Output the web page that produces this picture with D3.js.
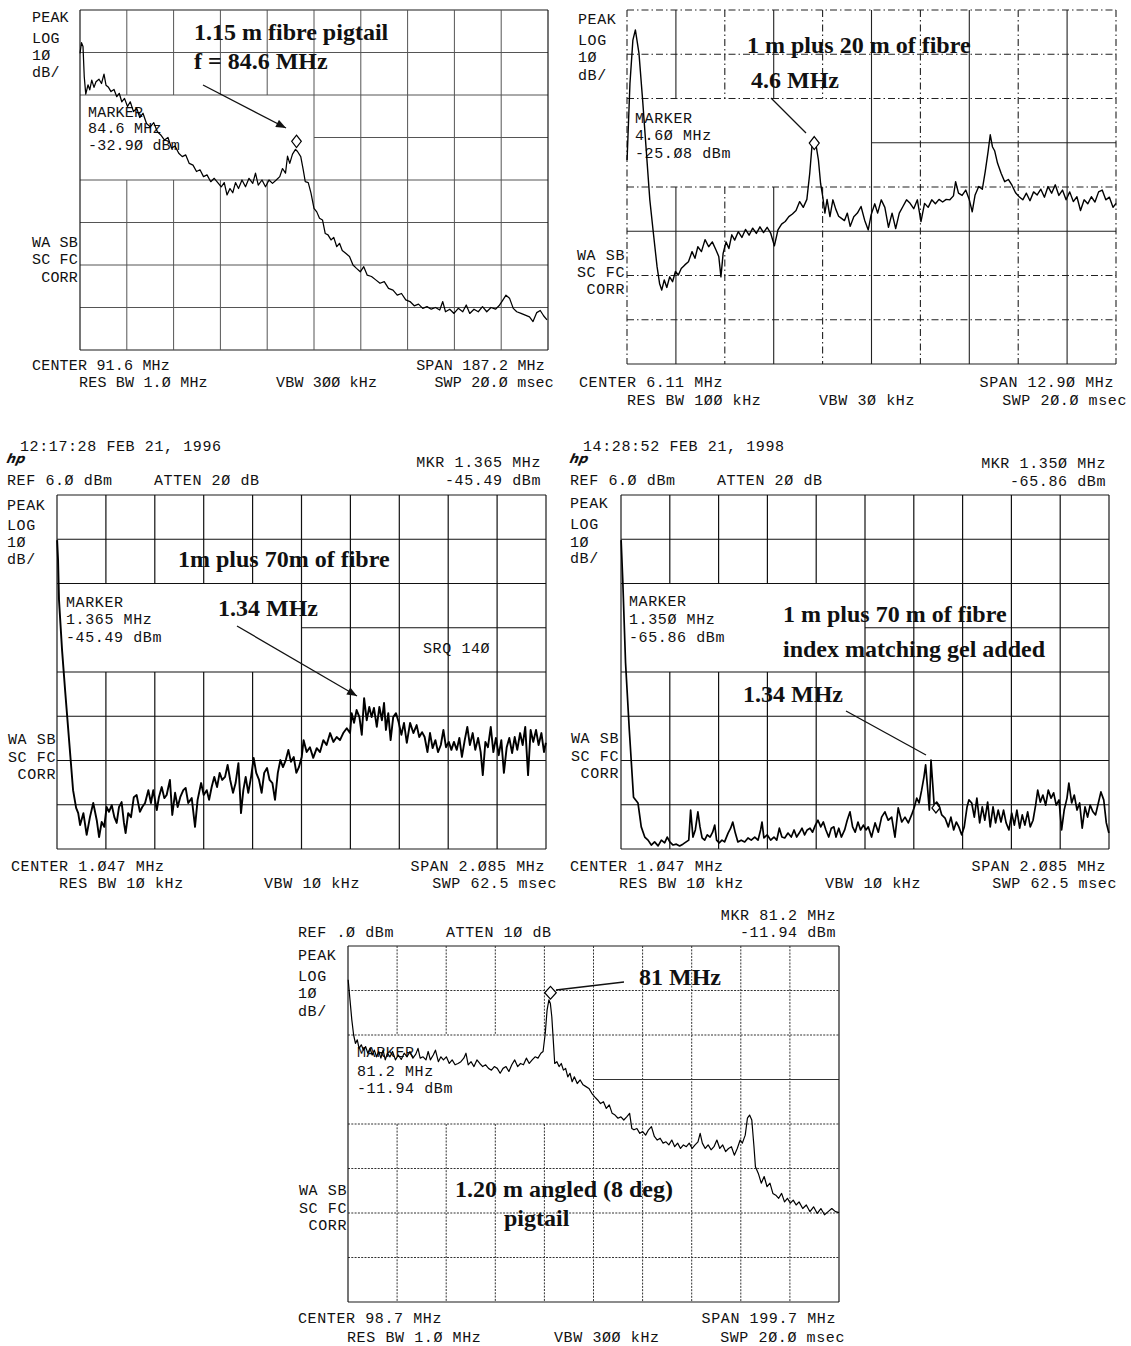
<!DOCTYPE html>
<html><head><meta charset="utf-8">
<script src="https://cdn.jsdelivr.net/npm/d3@7/dist/d3.min.js"></script>
<style>body{margin:0;background:#fff}svg{display:block}</style>
</head><body>
<svg id="c" width="1131" height="1346"></svg>
<script>
// ---------- DATA ----------
// Panel 1: 1.15 m fibre pigtail  (MHz, dBm)
const p1Freq = [-2.0,-1.4,-0.8,-0.3,0.3,1.2,1.9,2.7,3.6,4.4,5.6,6.6,7.6,8.4,9.4,10.4,11.6,12.7,13.7,14.7,15.8,17.0,18.1,19.4,20.7,21.9,23.2,24.6,26.1,27.5,28.9,30.3,31.8,33.2,34.6,36.0,37.5,38.9,40.3,41.7,43.2,44.6,46.0,47.4,48.8,50.3,51.7,53.1,54.5,55.7,56.8,58.0,59.1,60.2,61.4,62.8,64.2,65.6,67.1,68.2,69.3,70.8,72.2,73.6,75.0,76.5,77.9,79.0,80.2,81.0,81.9,83.0,84.2,85.0,86.3,87.3,88.1,89.3,90.4,91.6,92.7,93.8,95.0,96.1,97.2,98.4,99.5,100.7,101.8,102.9,104.4,105.8,107.2,108.6,110.1,111.5,112.9,114.6,116.3,118.0,119.7,121.4,123.2,124.9,126.6,128.3,130.0,131.7,133.4,135.1,136.8,138.5,140.2,141.9,143.1,144.2,145.9,147.6,149.3,151.1,152.5,153.9,155.6,157.3,159.0,160.7,162.4,164.2,165.6,167.0,168.4,169.8,171.3,172.7,174.4,176.1,177.8,179.2,180.7,182.1,183.5,184.8];
const p1Level = [-12.2,-9.7,-10.6,-17.7,-21.8,-19.6,-20.8,-18.5,-20.2,-18.9,-18.3,-19.3,-17.1,-19.7,-20.2,-21.2,-20.7,-22.4,-21.6,-23.6,-22.8,-24.7,-23.6,-25.9,-25.1,-27.3,-26.3,-28.7,-29.5,-28.5,-30.6,-31.4,-32.6,-32.0,-34.5,-34.0,-35.7,-36.5,-36.1,-38.1,-38.5,-40.0,-39.6,-41.2,-40.8,-42.4,-41.6,-42.6,-43.6,-42.6,-45.5,-44.0,-45.0,-42.6,-44.0,-42.0,-43.6,-41.6,-42.8,-40.4,-43.2,-42.0,-43.6,-42.0,-42.8,-42.0,-41.2,-39.3,-40.4,-36.4,-38.1,-35.9,-34.8,-35.3,-36.5,-39.6,-42.4,-42.6,-45.1,-48.7,-49.5,-51.0,-51.4,-54.6,-54.9,-56.1,-55.5,-57.7,-56.9,-58.6,-59.3,-60.0,-62.0,-62.8,-63.6,-62.4,-64.4,-64.7,-65.5,-66.3,-65.9,-67.5,-67.9,-69.1,-68.7,-70.2,-70.6,-71.6,-71.2,-72.2,-71.8,-72.4,-72.0,-72.6,-70.6,-73.0,-72.4,-73.4,-72.2,-73.0,-71.4,-73.4,-72.4,-73.0,-71.8,-73.0,-72.0,-72.4,-71.6,-70.4,-69.1,-69.8,-72.2,-73.0,-73.4,-73.8,-74.2,-75.3,-73.2,-72.7,-74.0,-74.9];

// Panel 2: 1 m plus 20 m of fibre
const p2Freq = [-0.338,-0.262,-0.185,-0.119,-0.024,0.072,0.167,0.262,0.357,0.453,0.519,0.576,0.643,0.710,0.786,0.862,0.938,1.015,1.091,1.186,1.281,1.376,1.453,1.529,1.624,1.719,1.815,1.910,2.005,2.081,2.138,2.196,2.272,2.348,2.424,2.500,2.595,2.691,2.786,2.881,2.976,3.072,3.167,3.262,3.357,3.453,3.548,3.643,3.738,3.834,3.929,4.024,4.119,4.215,4.310,4.405,4.481,4.538,4.596,4.653,4.710,4.767,4.824,4.881,4.938,5.014,5.091,5.167,5.243,5.319,5.396,5.472,5.548,5.643,5.738,5.834,5.929,6.024,6.100,6.196,6.272,6.367,6.462,6.558,6.653,6.748,6.843,6.939,7.034,7.129,7.224,7.320,7.415,7.510,7.605,7.700,7.796,7.891,7.986,8.081,8.177,8.272,8.329,8.405,8.500,8.596,8.691,8.767,8.843,8.939,9.034,9.110,9.186,9.243,9.300,9.358,9.434,9.529,9.624,9.720,9.815,9.910,10.005,10.101,10.196,10.291,10.386,10.481,10.577,10.672,10.767,10.862,10.958,11.053,11.148,11.243,11.339,11.434,11.529,11.624,11.720,11.815,11.910,12.005,12.101,12.196,12.291,12.386,12.481,12.560];
const p2Level = [-28.9,-11.6,-1.8,0.5,-4.8,-15.3,-26.6,-37.9,-45.5,-53.0,-56.8,-58.3,-56.0,-57.7,-55.3,-56.4,-54.1,-54.9,-53.4,-52.6,-51.9,-49.6,-51.1,-48.5,-49.6,-46.9,-48.5,-47.4,-49.2,-50.7,-55.3,-50.0,-47.4,-48.9,-45.8,-47.0,-45.1,-46.4,-44.6,-45.9,-44.3,-45.5,-44.0,-45.3,-44.1,-45.5,-48.3,-44.7,-43.4,-42.8,-41.7,-41.1,-40.3,-38.3,-39.6,-37.8,-31.9,-25.9,-24.2,-25.9,-28.9,-34.2,-37.2,-40.9,-37.8,-41.7,-37.9,-40.0,-41.6,-42.1,-42.6,-40.9,-43.9,-41.7,-40.9,-39.4,-42.5,-44.7,-41.3,-38.8,-40.9,-37.9,-39.6,-44.1,-40.9,-44.4,-40.9,-39.4,-37.9,-38.7,-39.9,-37.9,-42.8,-38.7,-39.6,-37.9,-38.8,-37.8,-38.4,-37.8,-37.9,-37.0,-33.8,-36.4,-36.9,-35.7,-37.9,-40.6,-36.8,-34.9,-35.5,-31.5,-27.0,-23.2,-25.9,-26.8,-29.6,-31.9,-33.8,-33.3,-34.6,-36.3,-37.2,-37.9,-36.4,-38.1,-36.1,-36.8,-35.5,-37.3,-34.9,-36.4,-34.5,-36.9,-35.7,-37.9,-36.1,-38.3,-37.2,-40.3,-37.9,-38.8,-37.2,-38.4,-36.1,-35.7,-37.9,-37.3,-39.6,-38.7];

// Panel 3: 1m plus 70m of fibre
const p3Freq = [0.005,0.009,0.013,0.026,0.039,0.056,0.073,0.086,0.095,0.103,0.117,0.131,0.145,0.159,0.174,0.184,0.195,0.206,0.216,0.226,0.238,0.249,0.259,0.269,0.280,0.290,0.297,0.308,0.320,0.332,0.344,0.358,0.368,0.380,0.394,0.405,0.415,0.430,0.439,0.451,0.462,0.472,0.486,0.496,0.508,0.519,0.530,0.543,0.553,0.564,0.579,0.593,0.604,0.619,0.630,0.643,0.653,0.664,0.675,0.687,0.698,0.709,0.721,0.732,0.743,0.755,0.766,0.778,0.789,0.799,0.809,0.820,0.832,0.843,0.854,0.866,0.877,0.888,0.900,0.911,0.923,0.934,0.946,0.957,0.968,0.980,0.991,1.002,1.014,1.025,1.036,1.048,1.056,1.069,1.083,1.097,1.112,1.126,1.140,1.154,1.169,1.183,1.197,1.211,1.225,1.240,1.254,1.261,1.271,1.282,1.294,1.304,1.314,1.325,1.336,1.346,1.356,1.368,1.379,1.390,1.399,1.407,1.417,1.427,1.438,1.450,1.461,1.473,1.484,1.496,1.510,1.524,1.538,1.549,1.561,1.572,1.584,1.595,1.606,1.618,1.629,1.641,1.652,1.663,1.675,1.686,1.697,1.709,1.720,1.731,1.743,1.754,1.765,1.777,1.788,1.800,1.811,1.820,1.831,1.842,1.854,1.865,1.876,1.888,1.899,1.910,1.922,1.933,1.945,1.956,1.967,1.979,1.990,2.001,2.013,2.024,2.035,2.047,2.058,2.070,2.081,2.089];
const p3Level = [-4.2,-8.7,-17.7,-29.0,-38.1,-49.4,-60.7,-64.7,-65.9,-68.6,-65.9,-70.8,-66.8,-63.6,-67.5,-71.3,-67.9,-69.0,-64.5,-65.6,-64.1,-66.8,-68.1,-64.5,-63.4,-68.1,-70.4,-65.9,-66.8,-62.3,-61.8,-65.6,-64.5,-63.6,-60.7,-63.6,-60.7,-65.2,-62.3,-60.0,-62.5,-61.8,-58.4,-66.3,-61.3,-64.5,-62.3,-60.7,-60.2,-63.6,-62.5,-69.0,-62.9,-59.1,-61.8,-60.7,-62.9,-60.0,-57.7,-60.0,-56.8,-58.4,-57.7,-55.0,-58.4,-61.3,-59.1,-54.6,-65.9,-60.7,-57.7,-61.3,-57.7,-53.4,-56.8,-58.4,-61.3,-56.8,-55.7,-58.4,-59.1,-62.9,-56.8,-53.9,-55.5,-53.9,-51.6,-54.3,-53.2,-56.8,-55.5,-53.2,-49.4,-52.1,-51.0,-53.4,-51.2,-52.1,-49.4,-50.5,-47.8,-49.8,-48.7,-49.4,-47.8,-46.7,-47.8,-43.3,-45.5,-42.6,-44.2,-48.2,-39.9,-44.9,-41.9,-44.2,-42.1,-46.4,-41.9,-44.9,-41.0,-47.1,-43.3,-49.4,-44.2,-43.3,-45.3,-48.2,-45.5,-50.0,-45.5,-47.8,-46.0,-48.7,-47.6,-48.7,-52.1,-47.8,-51.2,-49.4,-52.1,-50.5,-47.1,-51.0,-49.8,-51.6,-49.8,-51.6,-48.9,-53.2,-49.4,-46.4,-50.5,-47.8,-51.6,-48.9,-52.1,-57.3,-49.8,-51.0,-46.4,-52.1,-48.9,-52.8,-49.4,-56.8,-51.0,-48.9,-52.3,-48.7,-51.6,-47.8,-50.5,-46.4,-57.3,-47.1,-49.8,-47.1,-50.5,-47.8,-52.1,-50.0];

// Panel 4: 1 m plus 70 m of fibre, index matching gel added
const p4Freq = [0.005,0.012,0.024,0.040,0.058,0.077,0.091,0.106,0.120,0.134,0.148,0.163,0.177,0.191,0.202,0.213,0.227,0.241,0.255,0.269,0.283,0.294,0.302,0.312,0.322,0.333,0.342,0.351,0.362,0.373,0.385,0.396,0.405,0.413,0.424,0.436,0.447,0.462,0.473,0.482,0.493,0.504,0.518,0.533,0.547,0.561,0.576,0.590,0.601,0.607,0.615,0.629,0.644,0.658,0.670,0.681,0.692,0.704,0.718,0.732,0.744,0.755,0.766,0.778,0.789,0.800,0.812,0.823,0.835,0.846,0.858,0.869,0.880,0.892,0.903,0.914,0.923,0.935,0.946,0.960,0.971,0.983,0.994,1.005,1.017,1.028,1.040,1.051,1.061,1.075,1.090,1.104,1.118,1.132,1.146,1.161,1.175,1.189,1.204,1.218,1.232,1.246,1.258,1.268,1.278,1.289,1.299,1.306,1.315,1.322,1.329,1.336,1.343,1.353,1.363,1.375,1.389,1.403,1.414,1.426,1.437,1.448,1.460,1.471,1.483,1.491,1.503,1.514,1.525,1.537,1.548,1.559,1.571,1.582,1.594,1.605,1.616,1.628,1.639,1.650,1.662,1.674,1.685,1.696,1.708,1.719,1.730,1.742,1.753,1.765,1.776,1.785,1.796,1.807,1.819,1.830,1.842,1.853,1.864,1.876,1.887,1.898,1.910,1.918,1.930,1.941,1.953,1.964,1.975,1.987,1.998,2.009,2.021,2.032,2.044,2.055,2.067,2.078,2.089];
const p4Level = [-4.2,-13.2,-32.0,-47.1,-62.3,-63.6,-69.0,-71.3,-72.0,-73.1,-72.4,-73.3,-72.0,-72.6,-71.3,-72.4,-73.1,-72.9,-73.3,-72.9,-72.4,-72.0,-65.2,-71.3,-69.7,-65.6,-69.0,-71.5,-72.0,-70.8,-71.3,-70.2,-68.6,-72.0,-72.6,-72.0,-72.4,-70.4,-69.3,-67.9,-70.4,-72.4,-72.0,-72.4,-71.5,-72.0,-71.3,-72.0,-69.7,-67.9,-71.5,-70.8,-72.0,-71.3,-72.0,-69.3,-71.3,-71.5,-70.4,-71.3,-69.7,-71.3,-70.4,-69.3,-70.8,-69.7,-69.3,-70.2,-68.6,-67.5,-69.0,-67.9,-69.7,-71.3,-69.3,-69.0,-71.3,-69.3,-71.3,-69.7,-67.5,-65.6,-69.0,-70.2,-67.9,-69.7,-68.6,-69.7,-69.0,-71.3,-68.1,-70.2,-66.8,-65.6,-67.5,-66.8,-71.3,-64.7,-67.9,-66.8,-68.1,-66.3,-64.5,-62.5,-63.6,-60.7,-57.7,-55.0,-60.7,-65.2,-53.9,-59.1,-64.5,-63.4,-64.1,-66.3,-67.0,-69.0,-66.8,-69.7,-67.9,-69.0,-70.8,-69.0,-64.5,-62.9,-63.6,-66.8,-62.5,-68.1,-64.5,-67.5,-63.4,-69.0,-64.5,-68.1,-65.2,-67.9,-65.2,-68.1,-69.7,-65.9,-68.6,-65.2,-69.3,-66.3,-68.6,-65.6,-69.0,-67.5,-64.1,-60.7,-63.4,-61.8,-64.1,-60.7,-62.5,-61.3,-64.1,-62.9,-69.7,-65.2,-62.5,-59.1,-63.6,-61.8,-65.2,-63.6,-69.3,-64.5,-66.8,-64.1,-65.6,-66.3,-63.6,-61.1,-62.9,-68.1,-70.4];

// Panel 5: 1.20 m angled (8 deg) pigtail
const p5Freq = [-1.08,-0.34,0.40,1.14,1.88,2.62,3.36,4.25,5.13,6.02,6.91,7.80,8.68,9.57,10.46,11.35,12.23,13.12,14.01,14.89,15.93,16.96,18.15,19.33,20.51,21.70,22.88,24.06,25.25,26.43,27.32,28.21,29.39,30.57,31.46,32.35,33.53,34.42,35.60,36.63,37.67,38.85,40.04,41.22,42.40,43.59,44.77,45.95,46.84,47.73,48.91,50.09,51.28,52.46,53.64,54.83,56.01,57.19,58.37,59.56,60.74,61.92,63.11,64.29,65.47,66.66,67.84,69.02,70.21,71.39,72.57,73.76,74.94,76.12,77.30,78.19,79.08,79.82,80.56,81.15,81.74,82.33,82.92,83.81,84.70,85.59,86.47,87.36,88.24,89.13,90.02,90.91,92.09,93.28,94.46,95.64,96.83,98.01,99.19,100.38,101.56,102.74,103.92,105.11,106.29,107.47,108.66,109.84,111.02,112.21,113.39,114.28,115.16,116.35,117.53,118.71,119.90,121.08,122.26,123.45,124.63,125.81,127.00,128.18,129.36,130.54,131.73,132.91,134.09,135.28,136.46,137.64,138.83,140.01,141.19,142.08,142.97,144.15,145.33,146.52,147.70,148.88,150.07,151.25,152.43,153.62,154.80,155.98,157.17,158.35,159.24,160.41,161.30,162.19,163.08,163.97,164.56,165.74,166.93,168.11,169.29,170.47,171.66,172.84,174.02,175.21,176.39,177.57,178.76,179.94,181.12,182.31,183.79,185.26,186.74,188.22,189.70,191.18,192.66,194.14,195.62,197.10,198.57];
const p5Level = [-7.6,-12.1,-16.6,-20.0,-21.9,-21.1,-23.0,-22.2,-23.4,-22.6,-24.1,-23.0,-24.5,-23.4,-24.9,-23.7,-25.2,-23.4,-25.6,-24.1,-24.9,-23.7,-25.6,-24.5,-25.5,-24.1,-24.9,-23.7,-25.2,-24.3,-23.0,-25.2,-24.9,-25.6,-23.7,-25.6,-24.5,-23.4,-26.0,-24.9,-25.6,-24.9,-26.4,-25.6,-26.7,-26.4,-26.0,-25.2,-24.1,-26.7,-26.0,-27.1,-25.6,-26.4,-27.1,-26.7,-27.5,-27.9,-27.1,-27.5,-28.6,-27.5,-27.1,-28.2,-26.7,-25.6,-27.1,-26.4,-26.7,-25.2,-26.4,-25.6,-24.9,-25.2,-24.1,-23.7,-19.6,-14.4,-12.1,-12.9,-15.9,-21.1,-26.4,-26.0,-27.1,-26.4,-27.9,-27.5,-29.4,-28.6,-30.5,-29.4,-30.9,-30.1,-31.2,-31.6,-32.0,-33.1,-33.9,-34.6,-35.4,-35.0,-36.5,-35.7,-37.6,-38.0,-38.7,-38.4,-39.1,-38.4,-37.6,-41.0,-41.3,-41.0,-42.1,-41.7,-42.5,-41.3,-40.6,-42.8,-43.6,-43.2,-44.3,-44.0,-44.7,-43.6,-45.1,-44.3,-45.5,-44.7,-45.1,-44.3,-45.5,-44.7,-44.0,-42.1,-44.3,-45.5,-44.7,-45.8,-45.1,-43.6,-45.5,-44.7,-46.2,-45.5,-45.1,-47.0,-45.5,-43.6,-44.3,-42.5,-38.7,-38.0,-39.1,-45.1,-49.6,-51.1,-53.3,-51.8,-54.1,-53.3,-55.6,-56.0,-56.7,-55.6,-57.5,-56.7,-57.8,-57.1,-58.2,-57.5,-59.0,-58.2,-59.7,-58.6,-60.1,-59.0,-60.4,-59.7,-59.0,-59.7,-59.9];

// Analyser settings per panel: centre, span (MHz), reference level (dBm), marker
const centerMHz = [91.6, 6.11, 1.047, 1.047, 98.7];
const spanMHz   = [187.2, 12.90, 2.085, 2.085, 199.7];
const refDbm    = [-2, 5, 6, 6, 0];
const markerMHz = [84.6, 4.60, 1.365, 1.350, 81.2];
const markerDbm = [-32.90, -25.08, -45.49, -65.86, -11.94];

// ---------- DRAWING ----------
const svg = d3.select('#c');
const MONO = "'Liberation Mono','DejaVu Sans Mono',monospace";
const SERIF = "'Liberation Serif','Times New Roman',serif";

const defs = svg.append('defs');
defs.append('marker').attr('id','ah').attr('viewBox','0 0 10 8').attr('refX',10).attr('refY',4)
  .attr('markerWidth',11).attr('markerHeight',8).attr('markerUnits','userSpaceOnUse').attr('orient','auto')
  .append('path').attr('d','M0,0 L10,4 L0,8 Z').attr('fill','#111');

const panels = [
  { box:[80,10,468,340], freq:p1Freq, level:p1Level, ls:0.2, lineW:1.25,
    grid:{stroke:'#555', w:1, dash:null}, diamond:{hw:4.8, hh:6.2, anchor:'center'},
    texts:[['PEAK',32,22],['LOG',32,43],['1Ø',32,60],['dB/',32,77],
      ['WA SB',78,247,'end'],['SC FC',78,264,'end'],['CORR',78,282,'end'],
      ['MARKER',88,117],['84.6 MHz',88,133],['-32.9Ø dBm',88,150],
      ['CENTER 91.6 MHz',32,370],['RES BW 1.Ø MHz',79,387],['VBW 3ØØ kHz',276,387],
      ['SPAN 187.2 MHz',545,370,'end'],['SWP 2Ø.Ø msec',554,387,'end']],
    notes:[['1.15 m fibre pigtail',194,40],['f = 84.6 MHz',194,69]],
    arrows:[[203,85,286,128,true]] },
  { box:[627,10,489,354], freq:p2Freq, level:p2Level, ls:0.6, lineW:1.4,
    grid:{stroke:'#222', w:1.1, dash:'7,3,1.5,3', solidRows:[5,8], solidCols:[1,3,5,7,9]},
    diamond:{hw:5, hh:6.5, anchor:'center'},
    texts:[['PEAK',578,24],['LOG',578,45],['1Ø',578,62],['dB/',578,80],
      ['MARKER',635,123],['4.6Ø MHz',635,140],['-25.Ø8 dBm',635,158],
      ['WA SB',625,260,'end'],['SC FC',625,277,'end'],['CORR',625,294,'end'],
      ['CENTER 6.11 MHz',579,387],['RES BW 1ØØ kHz',627,405],['VBW 3Ø kHz',819,405],
      ['SPAN 12.9Ø MHz',1114,387,'end'],['SWP 2Ø.Ø msec',1127,405,'end']],
    notes:[['1 m plus 20 m of fibre',747,53],['4.6 MHz',751,88]],
    arrows:[[771,98,806,133,false]] },
  { box:[57,495,489,354], freq:p3Freq, level:p3Level, ls:0.6, lineW:1.9,
    grid:{stroke:'#111', w:1.2, dash:null}, diamond:null,
    texts:[['12:17:28 FEB 21, 1996',20,451],
      ['MKR 1.365 MHz',541,467,'end'],['-45.49 dBm',541,485,'end'],['REF 6.Ø dBm',7,485],['ATTEN 2Ø dB',154,485],
      ['PEAK',7,510],['LOG',7,530],['1Ø',7,547],['dB/',7,564],
      ['MARKER',66,607],['1.365 MHz',66,624],['-45.49 dBm',66,642],['SRQ 14Ø',423,653],
      ['WA SB',56,744,'end'],['SC FC',56,762,'end'],['CORR',56,779,'end'],
      ['CENTER 1.Ø47 MHz',11,871],['RES BW 1Ø kHz',59,888],['VBW 1Ø kHz',264,888],
      ['SPAN 2.Ø85 MHz',545,871,'end'],['SWP 62.5 msec',557,888,'end']],
    logo:[6,463],
    notes:[['1m plus 70m of fibre',178,567],['1.34 MHz',218,616]],
    arrows:[[237,626,357,696,true]] },
  { box:[621,495,488,354], freq:p4Freq, level:p4Level, ls:0.6, lineW:1.7,
    grid:{stroke:'#111', w:1.2, dash:null}, diamond:{hw:4, hh:5, anchor:'bottom'},
    texts:[['14:28:52 FEB 21, 1998',583,451],
      ['MKR 1.35Ø MHz',1106,468,'end'],['-65.86 dBm',1106,486,'end'],['REF 6.Ø dBm',570,485],['ATTEN 2Ø dB',717,485],
      ['PEAK',570,508],['LOG',570,529],['1Ø',570,547],['dB/',570,563],
      ['MARKER',629,606],['1.35Ø MHz',629,624],['-65.86 dBm',629,642],
      ['WA SB',619,743,'end'],['SC FC',619,761,'end'],['CORR',619,778,'end'],
      ['CENTER 1.Ø47 MHz',570,871],['RES BW 1Ø kHz',619,888],['VBW 1Ø kHz',825,888],
      ['SPAN 2.Ø85 MHz',1106,871,'end'],['SWP 62.5 msec',1117,888,'end']],
    logo:[569,463],
    notes:[['1 m plus 70 m of fibre',783,622],['index matching gel added',783,657],['1.34 MHz',743,702]],
    arrows:[[846,711,926,755,false]] },
  { box:[348,946,491,356], freq:p5Freq, level:p5Level, ls:0.6, lineW:1.2,
    grid:{stroke:'#333', w:1, dash:'2,1.3'}, diamond:{hw:5.8, hh:6.4, anchor:'bottom'},
    texts:[['MKR 81.2 MHz',836,920,'end'],['-11.94 dBm',836,937,'end'],['REF .Ø dBm',298,937],['ATTEN 1Ø dB',446,937],
      ['PEAK',298,960],['LOG',298,981],['1Ø',298,998],['dB/',298,1016],
      ['MARKER',357,1057],['81.2 MHz',357,1076],['-11.94 dBm',357,1093],
      ['WA SB',347,1195,'end'],['SC FC',347,1213,'end'],['CORR',347,1230,'end'],
      ['CENTER 98.7 MHz',298,1323],['RES BW 1.Ø MHz',347,1342],['VBW 3ØØ kHz',554,1342],
      ['SPAN 199.7 MHz',836,1323,'end'],['SWP 2Ø.Ø msec',845,1342,'end']],
    notes:[['81 MHz',639,985],['1.20 m angled (8 deg)',455,1197],['pigtail',504,1226]],
    arrows:[[624,982,556,990,false]] }
];

panels.forEach((P, k) => {
  const [bx, by, bw, bh] = P.box;
  const f0 = centerMHz[k] - spanMHz[k] / 2, f1 = centerMHz[k] + spanMHz[k] / 2;
  const xs = d3.scaleLinear().domain([f0, f1]).range([bx, bx + bw]);
  const ys = d3.scaleLinear().domain([refDbm[k] - 80, refDbm[k]]).range([by + bh, by]);
  const g = svg.append('g');

  // graticule: 10 x 8 divisions, marker readout box left blank
  const xl = d3.range(11).map(i => xs(f0 + i * spanMHz[k] / 10));
  const yl = d3.range(9).map(j => ys(refDbm[k] - j * 10));
  const gs = P.grid;
  const seg = (x1, y1, x2, y2, solid, border) => {
    g.append('line').attr('x1', x1).attr('y1', y1).attr('x2', x2).attr('y2', y2)
      .attr('stroke', border ? '#1a1a1a' : gs.stroke)
      .attr('stroke-width', border ? Math.max(gs.w, 1.2) : gs.w)
      .attr('stroke-dasharray', (solid || !gs.dash) ? null : gs.dash);
  };
  yl.forEach((y, j) => {
    const border = (j === 0 || j === 8);
    const solid = gs.solidRows ? gs.solidRows.includes(j) : false;
    if (j === 3) seg(xl[5], y, xl[10], y, true, false);
    else seg(xl[0], y, xl[10], y, solid || (k !== 1 && border), border && k !== 1);
  });
  xl.forEach((x, i) => {
    const border = (i === 0 || i === 10);
    const solid = gs.solidCols ? gs.solidCols.includes(i) : false;
    if (i >= 1 && i <= 4) {
      seg(x, yl[0], x, yl[2], solid, false);
      seg(x, yl[4], x, yl[8], solid, false);
    } else seg(x, yl[0], x, yl[8], solid || (k !== 1 && border), border && k !== 1);
  });

  // instrument text
  P.texts.forEach(t => {
    g.append('text').attr('x', t[1]).attr('y', t[2]).attr('text-anchor', t[3] || 'start')
      .attr('font-family', MONO).attr('font-size', 15).attr('letter-spacing', P.ls)
      .attr('fill', '#111').text(t[0]);
  });
  if (P.logo) {
    g.append('text').attr('x', P.logo[0]).attr('y', P.logo[1]).attr('font-family', "'DejaVu Sans',sans-serif")
      .attr('font-size', 13).attr('font-style', 'italic').attr('font-weight', 'bold').attr('fill', '#111')
      .attr('transform', `skewX(-12)`).attr('dx', P.logo[1] * 0.2126).text('hp');
  }

  // trace
  const pts = d3.zip(P.freq, P.level);
  const line = d3.line().x(d => xs(Math.max(f0, Math.min(f1, d[0])))).y(d => ys(d[1]));
  g.append('path').datum(pts).attr('d', line).attr('fill', 'none').attr('stroke', '#000')
    .attr('stroke-width', P.lineW).attr('stroke-linejoin', 'round');

  // marker diamond
  if (P.diamond) {
    const D = P.diamond;
    const cx = xs(markerMHz[k]);
    const cy = ys(markerDbm[k]) - (D.anchor === 'bottom' ? D.hh : 0);
    const p = d3.path();
    p.moveTo(cx, cy - D.hh); p.lineTo(cx + D.hw, cy); p.lineTo(cx, cy + D.hh); p.lineTo(cx - D.hw, cy); p.closePath();
    g.append('path').attr('d', p.toString()).attr('fill', '#fff').attr('stroke', '#000').attr('stroke-width', 1.2);
  }

  // annotations
  P.arrows.forEach(a => {
    g.append('line').attr('x1', a[0]).attr('y1', a[1]).attr('x2', a[2]).attr('y2', a[3])
      .attr('stroke', '#111').attr('stroke-width', 1.3).attr('marker-end', a[4] ? 'url(#ah)' : null);
  });
  P.notes.forEach(n => {
    g.append('text').attr('x', n[1]).attr('y', n[2]).attr('font-family', SERIF)
      .attr('font-weight', 'bold').attr('font-size', 24).attr('fill', '#111').text(n[0]);
  });
});
</script>
</body></html>
